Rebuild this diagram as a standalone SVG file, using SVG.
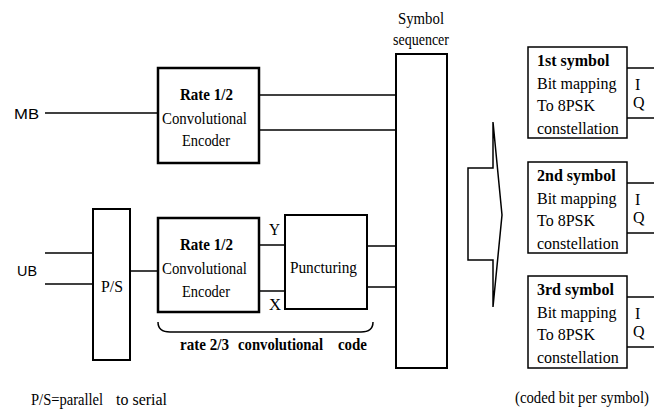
<svg xmlns="http://www.w3.org/2000/svg" width="667" height="416" viewBox="0 0 667 416" font-family="'Liberation Serif', 'Times New Roman', 'DejaVu Serif', serif">
<style>
text{font-family:"Liberation Serif","Times New Roman","DejaVu Serif",serif;font-size:16px;fill:#000}
.b{font-weight:bold}
.s{font-family:"Liberation Sans",Arial,sans-serif;font-size:15px}
.thick{fill:#fff;stroke:#000;stroke-width:2.5}
.box{fill:#fff;stroke:#000;stroke-width:2}
.thin{fill:#fff;stroke:#000;stroke-width:1.5}
.ln{fill:none;stroke:#000;stroke-width:1.5}
</style>
<rect width="667" height="416" fill="#fff"/>
<g id="connectors">
<line class="ln" x1="45" y1="113" x2="158" y2="113"/>
<line class="ln" x1="259" y1="95" x2="396" y2="95"/>
<line class="ln" x1="259" y1="130" x2="396" y2="130"/>
<line class="ln" x1="45" y1="253" x2="93" y2="253"/>
<line class="ln" x1="45" y1="284" x2="93" y2="284"/>
<line class="ln" x1="130" y1="271" x2="158" y2="271"/>
<line class="ln" x1="259" y1="245" x2="285" y2="245"/>
<line class="ln" x1="259" y1="291" x2="285" y2="291"/>
<line class="ln" x1="367" y1="246" x2="396" y2="246"/>
<line class="ln" x1="367" y1="287" x2="396" y2="287"/>
<line class="ln" x1="627" y1="68" x2="654" y2="68"/>
<line class="ln" x1="627" y1="118" x2="654" y2="118"/>
<line class="ln" x1="627" y1="183" x2="654" y2="183"/>
<line class="ln" x1="627" y1="233" x2="654" y2="233"/>
<line class="ln" x1="627" y1="297" x2="654" y2="297"/>
<line class="ln" x1="627" y1="347" x2="654" y2="347"/>
<path class="ln" d="M468,168 H493 V122 L502,215 L493,307 V260 H468 Z"/>
<path class="ln" d="M158,322 Q158,332 170,332 H361 Q373,332 373,322"/>
</g>
<g id="labels">
<text class="s" x="14" y="119" textLength="25" lengthAdjust="spacingAndGlyphs">MB</text>
<text class="s" x="17" y="276" textLength="20" lengthAdjust="spacingAndGlyphs">UB</text>
<text x="269" y="235" textLength="11" lengthAdjust="spacingAndGlyphs">Y</text>
<text x="269" y="310" textLength="12" lengthAdjust="spacingAndGlyphs">X</text>
<text class="b" y="350"><tspan x="180" textLength="49" lengthAdjust="spacingAndGlyphs">rate 2/3</tspan><tspan x="238" textLength="85" lengthAdjust="spacingAndGlyphs">convolutional</tspan><tspan x="338" textLength="29" lengthAdjust="spacingAndGlyphs">code</tspan></text>
<text y="405"><tspan x="31" textLength="72" lengthAdjust="spacingAndGlyphs">P/S=parallel</tspan><tspan x="116" textLength="51" lengthAdjust="spacingAndGlyphs">to serial</tspan></text>
<text x="515" y="403" textLength="134" lengthAdjust="spacingAndGlyphs">(coded bit per symbol)</text>
</g>
<g id="enc1">
<rect class="thick" x="158" y="68" width="101" height="95"/>
<text class="b" x="180" y="100" textLength="53" lengthAdjust="spacingAndGlyphs">Rate 1/2</text>
<text x="162" y="124" textLength="85" lengthAdjust="spacingAndGlyphs">Convolutional</text>
<text x="182" y="146" textLength="48" lengthAdjust="spacingAndGlyphs">Encoder</text>
</g>
<g id="ps">
<rect class="box" x="93" y="209" width="37" height="151"/>
<text x="101" y="292" textLength="22" lengthAdjust="spacingAndGlyphs">P/S</text>
</g>
<g id="enc2">
<rect class="thick" x="158" y="218" width="101" height="94"/>
<text class="b" x="180" y="250" textLength="53" lengthAdjust="spacingAndGlyphs">Rate 1/2</text>
<text x="162" y="274" textLength="85" lengthAdjust="spacingAndGlyphs">Convolutional</text>
<text x="182" y="297" textLength="48" lengthAdjust="spacingAndGlyphs">Encoder</text>
</g>
<g id="puncturing">
<rect class="box" x="285" y="215" width="82" height="94"/>
<text x="290" y="273" textLength="67" lengthAdjust="spacingAndGlyphs">Puncturing</text>
</g>
<g id="sequencer">
<rect class="box" x="396" y="54" width="51" height="314"/>
<text x="398" y="24" textLength="46" lengthAdjust="spacingAndGlyphs">Symbol</text>
<text x="393" y="45" textLength="56" lengthAdjust="spacingAndGlyphs">sequencer</text>
</g>
<g id="sym1">
<rect class="thin" x="528" y="47" width="99" height="91"/>
<text class="b" x="537" y="66">1st symbol</text>
<text x="537" y="89">Bit mapping</text>
<text x="537" y="111">To 8PSK</text>
<text x="537" y="134">constellation</text>
<text x="635" y="90">I</text>
<text x="633" y="108">Q</text>
</g>
<g id="sym2">
<rect class="thin" x="528" y="162" width="99" height="91"/>
<text class="b" x="537" y="181">2nd symbol</text>
<text x="537" y="204">Bit mapping</text>
<text x="537" y="226">To 8PSK</text>
<text x="537" y="249">constellation</text>
<text x="635" y="205">I</text>
<text x="633" y="223">Q</text>
</g>
<g id="sym3">
<rect class="thin" x="528" y="276" width="99" height="92"/>
<text class="b" x="537" y="295">3rd symbol</text>
<text x="537" y="318">Bit mapping</text>
<text x="537" y="340">To 8PSK</text>
<text x="537" y="363">constellation</text>
<text x="635" y="319">I</text>
<text x="633" y="337">Q</text>
</g>
</svg>
